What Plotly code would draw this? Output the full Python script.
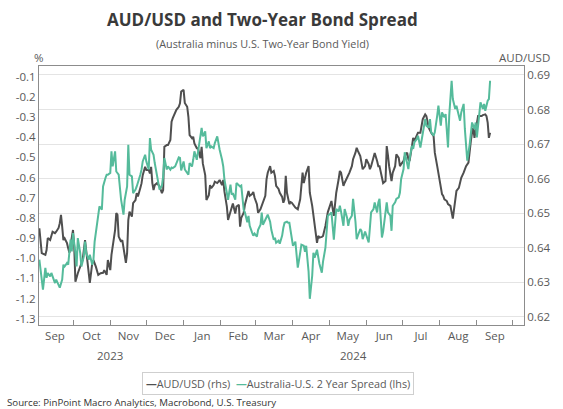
import plotly.graph_objects as go

# AUD/USD spot rate (right-hand scale)
AUD_DATES = [
    "2023-09-03", "2023-09-05", "2023-09-08", "2023-09-09", "2023-09-10", "2023-09-12", "2023-09-14", "2023-09-16",
    "2023-09-17", "2023-09-19", "2023-09-20", "2023-09-21", "2023-09-22", "2023-09-23", "2023-09-24", "2023-09-26",
    "2023-09-27", "2023-09-28", "2023-09-29",
    "2023-10-01", "2023-10-02", "2023-10-03", "2023-10-05", "2023-10-07", "2023-10-09", "2023-10-11", "2023-10-12",
    "2023-10-14", "2023-10-15", "2023-10-17", "2023-10-18", "2023-10-20", "2023-10-22", "2023-10-24", "2023-10-26",
    "2023-10-27", "2023-10-29", "2023-10-30",
    "2023-11-01", "2023-11-02", "2023-11-03", "2023-11-05", "2023-11-06", "2023-11-07", "2023-11-08", "2023-11-10",
    "2023-11-11", "2023-11-13", "2023-11-14", "2023-11-15", "2023-11-16", "2023-11-17", "2023-11-19", "2023-11-20",
    "2023-11-22", "2023-11-23", "2023-11-24", "2023-11-26", "2023-11-27", "2023-11-28", "2023-11-30",
    "2023-12-01", "2023-12-03", "2023-12-04", "2023-12-05", "2023-12-06", "2023-12-07", "2023-12-08", "2023-12-10",
    "2023-12-12", "2023-12-14", "2023-12-15", "2023-12-16", "2023-12-18", "2023-12-19", "2023-12-21", "2023-12-22",
    "2023-12-23", "2023-12-25", "2023-12-26", "2023-12-28", "2023-12-29", "2023-12-30",
    "2024-01-01", "2024-01-02", "2024-01-04", "2024-01-05", "2024-01-06", "2024-01-08", "2024-01-09", "2024-01-10",
    "2024-01-12", "2024-01-13", "2024-01-15", "2024-01-16", "2024-01-17", "2024-01-19", "2024-01-20", "2024-01-22",
    "2024-01-23", "2024-01-24", "2024-01-26", "2024-01-27", "2024-01-29", "2024-01-30", "2024-01-31",
    "2024-02-02", "2024-02-03", "2024-02-04", "2024-02-06", "2024-02-07", "2024-02-09", "2024-02-10", "2024-02-11",
    "2024-02-13", "2024-02-14", "2024-02-16", "2024-02-17", "2024-02-18", "2024-02-20", "2024-02-21", "2024-02-23",
    "2024-02-24", "2024-02-25", "2024-02-27", "2024-02-28", "2024-02-29",
    "2024-03-02", "2024-03-03", "2024-03-05", "2024-03-06", "2024-03-07", "2024-03-09", "2024-03-10", "2024-03-11",
    "2024-03-13", "2024-03-14", "2024-03-16", "2024-03-17", "2024-03-18", "2024-03-20", "2024-03-21", "2024-03-23",
    "2024-03-24", "2024-03-25", "2024-03-26", "2024-03-27", "2024-03-29", "2024-03-30", "2024-03-31",
    "2024-04-02", "2024-04-03", "2024-04-05", "2024-04-07", "2024-04-08", "2024-04-09", "2024-04-10", "2024-04-11",
    "2024-04-12", "2024-04-14", "2024-04-15", "2024-04-17", "2024-04-18", "2024-04-19", "2024-04-21", "2024-04-22",
    "2024-04-23", "2024-04-25", "2024-04-26", "2024-04-28", "2024-04-29", "2024-04-30",
    "2024-05-02", "2024-05-03", "2024-05-05", "2024-05-06", "2024-05-07", "2024-05-09", "2024-05-10", "2024-05-11",
    "2024-05-13", "2024-05-14", "2024-05-16", "2024-05-17", "2024-05-18", "2024-05-20", "2024-05-21", "2024-05-23",
    "2024-05-24", "2024-05-25", "2024-05-27", "2024-05-28", "2024-05-29", "2024-05-31",
    "2024-06-01", "2024-06-03", "2024-06-04", "2024-06-05", "2024-06-07", "2024-06-08", "2024-06-10", "2024-06-11",
    "2024-06-12", "2024-06-14", "2024-06-15", "2024-06-17", "2024-06-18", "2024-06-19", "2024-06-20", "2024-06-22",
    "2024-06-23", "2024-06-25", "2024-06-26", "2024-06-28", "2024-06-29", "2024-06-30",
    "2024-07-02", "2024-07-03", "2024-07-05", "2024-07-06", "2024-07-07", "2024-07-09", "2024-07-10", "2024-07-11",
    "2024-07-13", "2024-07-14", "2024-07-16", "2024-07-17", "2024-07-18", "2024-07-20", "2024-07-21", "2024-07-23",
    "2024-07-24", "2024-07-25", "2024-07-27", "2024-07-28", "2024-07-30", "2024-07-31",
    "2024-08-01", "2024-08-03", "2024-08-04", "2024-08-05", "2024-08-07", "2024-08-08", "2024-08-10", "2024-08-11",
    "2024-08-12", "2024-08-13", "2024-08-14", "2024-08-15", "2024-08-17", "2024-08-18", "2024-08-19", "2024-08-21",
    "2024-08-22", "2024-08-23", "2024-08-25", "2024-08-26", "2024-08-27", "2024-08-28", "2024-08-29", "2024-08-30",
    "2024-09-01", "2024-09-02", "2024-09-04", "2024-09-05", "2024-09-06", "2024-09-08", "2024-09-09", "2024-09-10",
    "2024-09-11", "2024-09-12",
]
AUD_USD = [
    0.6456, 0.6384, 0.6379, 0.6393, 0.6428, 0.6422, 0.6446, 0.6442, 0.6446, 0.6457, 0.6471, 0.6495, 0.6461, 0.6422,
    0.6427, 0.6413, 0.6398, 0.6385, 0.6408,
    0.6451, 0.6403, 0.6301, 0.6326, 0.6345, 0.6364, 0.6422, 0.6388, 0.6327, 0.6298, 0.6355, 0.6364, 0.6345, 0.6321,
    0.6326, 0.6327, 0.6335, 0.6321, 0.6364,
    0.6335, 0.6379, 0.6403, 0.6451, 0.6500, 0.6495, 0.6432, 0.6417, 0.6422, 0.6374, 0.6356, 0.6384, 0.6480, 0.6504,
    0.6490, 0.6529, 0.6538, 0.6558, 0.6548, 0.6573, 0.6586, 0.6610, 0.6634,
    0.6625, 0.6625, 0.6615, 0.6634, 0.6587, 0.6567, 0.6581, 0.6587, 0.6577, 0.6558, 0.6567, 0.6692, 0.6697, 0.6697,
    0.6712, 0.6765, 0.6775, 0.6794, 0.6799, 0.6808, 0.6818, 0.6852,
    0.6857, 0.6819, 0.6808, 0.6779, 0.6726, 0.6717, 0.6721, 0.6702, 0.6688, 0.6688, 0.6659, 0.6692, 0.6644, 0.6610,
    0.6538, 0.6552, 0.6581, 0.6572, 0.6581, 0.6591, 0.6587, 0.6591, 0.6596,
    0.6581, 0.6596, 0.6562, 0.6519, 0.6480, 0.6504, 0.6519, 0.6528, 0.6499, 0.6519, 0.6524, 0.6461, 0.6486, 0.6501,
    0.6524, 0.6550, 0.6564, 0.6550, 0.6555, 0.6561, 0.6545,
    0.6526, 0.6501, 0.6512, 0.6521, 0.6529, 0.6550, 0.6598, 0.6617, 0.6636, 0.6617, 0.6622, 0.6608, 0.6579, 0.6570,
    0.6559, 0.6547, 0.6530, 0.6540, 0.6608, 0.6559, 0.6526, 0.6532, 0.6530,
    0.6521, 0.6516, 0.6511, 0.6540, 0.6579, 0.6617, 0.6587, 0.6608, 0.6617, 0.6636, 0.6559, 0.6521, 0.6492, 0.6463,
    0.6414, 0.6434, 0.6429, 0.6431, 0.6434, 0.6463, 0.6486, 0.6503,
    0.6524, 0.6535, 0.6492, 0.6521, 0.6559, 0.6598, 0.6622, 0.6617, 0.6579, 0.6588, 0.6603, 0.6608, 0.6617, 0.6636,
    0.6656, 0.6675, 0.6689, 0.6680, 0.6665, 0.6646, 0.6627, 0.6636,
    0.6656, 0.6642, 0.6627, 0.6636, 0.6665, 0.6674, 0.6651, 0.6636, 0.6636, 0.6598, 0.6587, 0.6593, 0.6694, 0.6668,
    0.6636, 0.6593, 0.6617, 0.6636, 0.6670, 0.6660, 0.6636, 0.6642,
    0.6651, 0.6665, 0.6675, 0.6656, 0.6651, 0.6694, 0.6718, 0.6709, 0.6723, 0.6733, 0.6733, 0.6757, 0.6772, 0.6786,
    0.6781, 0.6747, 0.6738, 0.6733, 0.6723, 0.6675, 0.6636, 0.6616,
    0.6588, 0.6555, 0.6550, 0.6540, 0.6535, 0.6526, 0.6521, 0.6501, 0.6484, 0.6511, 0.6544, 0.6564, 0.6573, 0.6588,
    0.6602, 0.6617, 0.6627, 0.6636, 0.6646, 0.6685, 0.6709, 0.6733, 0.6747, 0.6718,
    0.6757, 0.6781, 0.6781, 0.6781, 0.6784, 0.6786, 0.6781, 0.6762, 0.6718, 0.6733,
]

# Australia minus U.S. two-year yield, percentage points (left-hand scale)
SPREAD_DATES = [
    "2023-09-03", "2023-09-05", "2023-09-06", "2023-09-08", "2023-09-09", "2023-09-10", "2023-09-12", "2023-09-13",
    "2023-09-15", "2023-09-16", "2023-09-17", "2023-09-19", "2023-09-20", "2023-09-22", "2023-09-23", "2023-09-24",
    "2023-09-26", "2023-09-27", "2023-09-28", "2023-09-29", "2023-09-30",
    "2023-10-01", "2023-10-03", "2023-10-04", "2023-10-05", "2023-10-07", "2023-10-08", "2023-10-10", "2023-10-11",
    "2023-10-12", "2023-10-14", "2023-10-15", "2023-10-17", "2023-10-18", "2023-10-19", "2023-10-21", "2023-10-22",
    "2023-10-23", "2023-10-25", "2023-10-26", "2023-10-28", "2023-10-29", "2023-10-30",
    "2023-11-01", "2023-11-02", "2023-11-03", "2023-11-05", "2023-11-06", "2023-11-08", "2023-11-09", "2023-11-10",
    "2023-11-12", "2023-11-13", "2023-11-15", "2023-11-16", "2023-11-17", "2023-11-19", "2023-11-20", "2023-11-22",
    "2023-11-23", "2023-11-24", "2023-11-26", "2023-11-27", "2023-11-28", "2023-11-30",
    "2023-12-01", "2023-12-03", "2023-12-04", "2023-12-05", "2023-12-07", "2023-12-08", "2023-12-10", "2023-12-11",
    "2023-12-12", "2023-12-14", "2023-12-15", "2023-12-16", "2023-12-18", "2023-12-19", "2023-12-21", "2023-12-22",
    "2023-12-23", "2023-12-25", "2023-12-26", "2023-12-28", "2023-12-29", "2023-12-30",
    "2024-01-01", "2024-01-02", "2024-01-04", "2024-01-05", "2024-01-06", "2024-01-08", "2024-01-09", "2024-01-10",
    "2024-01-12", "2024-01-13", "2024-01-15", "2024-01-16", "2024-01-17", "2024-01-19", "2024-01-20", "2024-01-22",
    "2024-01-23", "2024-01-24", "2024-01-26", "2024-01-27", "2024-01-29", "2024-01-30", "2024-01-31",
    "2024-02-02", "2024-02-03", "2024-02-04", "2024-02-06", "2024-02-07", "2024-02-09", "2024-02-10", "2024-02-11",
    "2024-02-13", "2024-02-14", "2024-02-16", "2024-02-17", "2024-02-18", "2024-02-20", "2024-02-21", "2024-02-23",
    "2024-02-24", "2024-02-25", "2024-02-27", "2024-02-28", "2024-02-29",
    "2024-03-02", "2024-03-03", "2024-03-05", "2024-03-06", "2024-03-07", "2024-03-09", "2024-03-10", "2024-03-11",
    "2024-03-13", "2024-03-14", "2024-03-16", "2024-03-17", "2024-03-18", "2024-03-20", "2024-03-21", "2024-03-23",
    "2024-03-24", "2024-03-25", "2024-03-27", "2024-03-28", "2024-03-29", "2024-03-31",
    "2024-04-01", "2024-04-03", "2024-04-04", "2024-04-05", "2024-04-07", "2024-04-08", "2024-04-10", "2024-04-11",
    "2024-04-12", "2024-04-14", "2024-04-15", "2024-04-17", "2024-04-18", "2024-04-19", "2024-04-21", "2024-04-22",
    "2024-04-23", "2024-04-25", "2024-04-26", "2024-04-28", "2024-04-29", "2024-04-30",
    "2024-05-02", "2024-05-03", "2024-05-05", "2024-05-06", "2024-05-07", "2024-05-09", "2024-05-10", "2024-05-11",
    "2024-05-13", "2024-05-14", "2024-05-16", "2024-05-17", "2024-05-18", "2024-05-20", "2024-05-21", "2024-05-23",
    "2024-05-24", "2024-05-25", "2024-05-27", "2024-05-28", "2024-05-29", "2024-05-31",
    "2024-06-01", "2024-06-03", "2024-06-04", "2024-06-05", "2024-06-07", "2024-06-08", "2024-06-10", "2024-06-11",
    "2024-06-12", "2024-06-14", "2024-06-15", "2024-06-17", "2024-06-18", "2024-06-19", "2024-06-21", "2024-06-22",
    "2024-06-23", "2024-06-25", "2024-06-26", "2024-06-28", "2024-06-29", "2024-06-30",
    "2024-07-02", "2024-07-03", "2024-07-05", "2024-07-06", "2024-07-07", "2024-07-09", "2024-07-10", "2024-07-11",
    "2024-07-13", "2024-07-14", "2024-07-16", "2024-07-17", "2024-07-18", "2024-07-20", "2024-07-21", "2024-07-23",
    "2024-07-24", "2024-07-25", "2024-07-27", "2024-07-28", "2024-07-30", "2024-07-31",
    "2024-08-01", "2024-08-02", "2024-08-03", "2024-08-05", "2024-08-06", "2024-08-07", "2024-08-08", "2024-08-09",
    "2024-08-10", "2024-08-11", "2024-08-12", "2024-08-14", "2024-08-15", "2024-08-17", "2024-08-18", "2024-08-19",
    "2024-08-21", "2024-08-22", "2024-08-23", "2024-08-24", "2024-08-26", "2024-08-27", "2024-08-28", "2024-08-30",
    "2024-08-31",
    "2024-09-01", "2024-09-03", "2024-09-04", "2024-09-06", "2024-09-07", "2024-09-08", "2024-09-10", "2024-09-11",
    "2024-09-12",
]
SPREAD = [
    -1.007, -1.090, -1.156, -1.048, -1.097, -1.073, -1.090, -1.073, -1.115, -1.123, -1.106, -1.140, -1.146, -1.106,
    -1.032, -1.041, -1.024, -1.032, -0.958, -0.908, -0.966,
    -0.875, -0.974, -1.041, -0.900, -0.974, -1.041, -0.991, -0.917, -0.974, -1.007, -0.983, -1.032, -1.007, -0.917,
    -0.825, -0.776, -0.743, -0.759, -0.644, -0.602, -0.586, -0.586,
    -0.577, -0.470, -0.545, -0.470, -0.570, -0.586, -0.644, -0.710, -0.784, -0.710, -0.644, -0.437, -0.586, -0.594,
    -0.677, -0.660, -0.644, -0.627, -0.586, -0.561, -0.520, -0.487,
    -0.520, -0.560, -0.404, -0.462, -0.487, -0.528, -0.602, -0.640, -0.660, -0.640, -0.594, -0.503, -0.560, -0.545,
    -0.561, -0.550, -0.553, -0.545, -0.528, -0.500, -0.503, -0.565,
    -0.520, -0.560, -0.577, -0.586, -0.528, -0.545, -0.512, -0.470, -0.512, -0.470, -0.371, -0.354, -0.396, -0.371,
    -0.454, -0.421, -0.454, -0.446, -0.454, -0.429, -0.396, -0.437, -0.462,
    -0.512, -0.545, -0.611, -0.693, -0.710, -0.635, -0.685, -0.677, -0.710, -0.627, -0.640, -0.644, -0.640, -0.760,
    -0.773, -0.822, -0.790, -0.839, -0.873, -0.888, -0.878,
    -0.893, -0.859, -0.834, -0.774, -0.834, -0.809, -0.799, -0.784, -0.819, -0.859, -0.908, -0.898, -0.923, -0.913,
    -0.928, -0.888, -0.849, -0.824, -0.819, -0.824, -0.824, -0.888,
    -0.938, -0.918, -0.983, -1.047, -0.973, -0.933, -0.938, -0.968, -0.938, -1.067, -1.201, -1.087, -0.973, -0.997,
    -0.958, -0.997, -1.027, -1.072, -1.017, -0.948, -0.868, -0.789,
    -0.779, -0.773, -0.908, -0.809, -0.756, -0.769, -0.740, -0.769, -0.839, -0.756, -0.799, -0.839, -0.809, -0.789,
    -0.706, -0.819, -0.905, -0.888, -0.855, -0.864, -0.905, -0.868,
    -0.888, -0.922, -0.849, -0.773, -0.756, -0.723, -0.773, -0.723, -0.706, -0.897, -0.868, -0.773, -0.723, -0.773,
    -0.789, -0.864, -0.740, -0.723, -0.706, -0.698, -0.674, -0.607,
    -0.558, -0.475, -0.541, -0.558, -0.508, -0.442, -0.458, -0.426, -0.409, -0.393, -0.451, -0.412, -0.376, -0.310,
    -0.343, -0.353, -0.310, -0.376, -0.393, -0.376, -0.293, -0.244,
    -0.293, -0.343, -0.277, -0.302, -0.285, -0.363, -0.451, -0.293, -0.194, -0.120, -0.211, -0.260, -0.244, -0.293,
    -0.318, -0.277, -0.235, -0.359, -0.458, -0.516, -0.437, -0.359, -0.327, -0.359, -0.327,
    -0.401, -0.293, -0.227, -0.260, -0.235, -0.269, -0.219, -0.211, -0.120,
]

LEFT_TICKS = [-0.1, -0.2, -0.3, -0.4, -0.5, -0.6, -0.7, -0.8, -0.9, -1.0, -1.1, -1.2, -1.3]
RIGHT_TICKS = [0.62, 0.63, 0.64, 0.65, 0.66, 0.67, 0.68, 0.69]
YEAR_LABELS = ["2023", "2024"]
YEAR_CENTRES = ["2023-11-01", "2024-05-21"]

GREY = "#4f4f4f"
GREEN = "#55bb9b"
TEXT = "#595959"
FRAME = "#8c8c8c"
FONT = "Open Sans"

fig = go.Figure()

fig.add_trace(go.Scatter(
    x=AUD_DATES, y=AUD_USD, name="AUD/USD (rhs)", yaxis="y",
    mode="lines", line=dict(color=GREY, width=2), showlegend=False,
))
fig.add_trace(go.Scatter(
    x=SPREAD_DATES, y=SPREAD, name="Australia-U.S. 2 Year Spread (lhs)", yaxis="y2",
    mode="lines", line=dict(color=GREEN, width=2), showlegend=False,
))

fig.update_layout(
    width=563, height=409,
    margin=dict(l=39, r=39, t=66, b=84),
    paper_bgcolor="white", plot_bgcolor="white",
    font=dict(family=FONT, size=11.5, color=TEXT),
    xaxis=dict(
        type="date",
        range=["2023-09-02 17:00", "2024-10-10 05:00"],
        tick0="2023-09-01", dtick="M1",
        ticklabelmode="period", tickformat="%b",
        ticks="inside", ticklen=5, tickcolor=FRAME,
        showgrid=False, showline=True, mirror=True, linecolor=FRAME, linewidth=1,
        tickfont=dict(size=11.5, color=TEXT),
    ),
    yaxis=dict(
        side="right",
        range=[0.6176, 0.6926],
        tickvals=RIGHT_TICKS,
        ticktext=[f"{v:.2f}" for v in RIGHT_TICKS],
        showgrid=True, gridcolor="#e4e4e4", gridwidth=1,
        showline=True, linecolor=FRAME, linewidth=1,
        ticks="", zeroline=False,
        tickfont=dict(size=11.5, color=TEXT),
    ),
    yaxis2=dict(
        overlaying="y", side="left",
        range=[-1.331, -0.047],
        tickvals=LEFT_TICKS,
        ticktext=[f"{v:.1f}" for v in LEFT_TICKS],
        showgrid=False, showline=True, linecolor=FRAME, linewidth=1,
        ticks="", zeroline=False,
        tickfont=dict(size=11.5, color=TEXT),
    ),
)

annotations = [
    dict(text="<b>AUD/USD and Two-Year Bond Spread</b>", x=0.46, y=1.178,
         font=dict(size=17, color="#3a3a3a")),
    dict(text="(Australia minus U.S. Two-Year Bond Yield)", x=0.46, y=1.085,
         font=dict(size=10.8, color=TEXT)),
    dict(text="%", x=0.0, y=1.033, font=dict(size=11.5, color=TEXT)),
    dict(text="AUD/USD", x=1.058, y=1.033, xanchor="right", font=dict(size=11.5, color=TEXT)),
    dict(
        text=(f'<span style="color:{GREY}"><b>—</b></span>AUD/USD (rhs)  '
              f'<span style="color:{GREEN}"><b>—</b></span>Australia-U.S. 2 Year Spread (lhs)'),
        x=0.493, y=-0.224, font=dict(size=10.8, color=TEXT),
        bordercolor="#cfcfcf", borderwidth=1, borderpad=3, bgcolor="white",
    ),
    dict(text="Source: PinPoint Macro Analytics, Macrobond, U.S. Treasury",
         x=-0.070, y=-0.301, xanchor="left", font=dict(size=9.7, color="#333333")),
]
for a in annotations:
    a.setdefault("xanchor", "center")
    fig.add_annotation(xref="paper", yref="paper", yanchor="middle", showarrow=False, **a)

for label, centre in zip(YEAR_LABELS, YEAR_CENTRES):
    fig.add_annotation(text=label, x=centre, xref="x", y=-0.116, yref="paper",
                       yanchor="middle", xanchor="center", showarrow=False,
                       font=dict(size=11.5, color=TEXT))

fig.write_html("out.html")
